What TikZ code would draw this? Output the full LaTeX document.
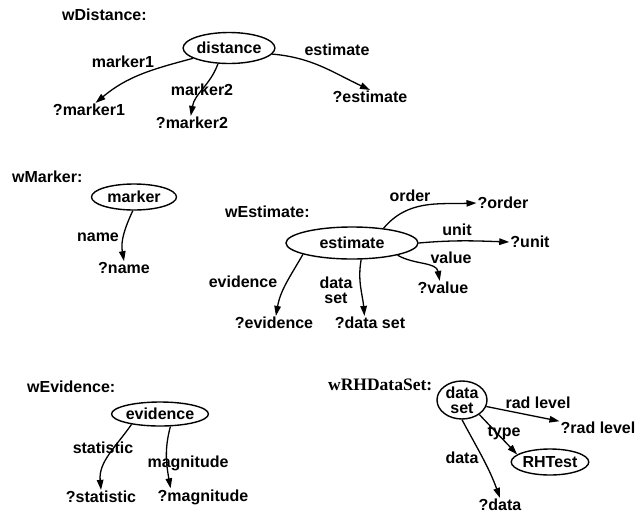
\documentclass[tikz,border=0pt]{standalone}
\usepackage{fontspec}
\setmainfont{Liberation Sans}
\newfontfamily\titleserif{Liberation Serif}
\usetikzlibrary{arrows.meta}
\usetikzlibrary{shapes.geometric}
\tikzset{
	lbl/.style={font=\fontsize{16}{15}\selectfont\bfseries, inner sep=1pt, align=center},
	ttl/.style={lbl, anchor=west},
	obj/.style={lbl, ellipse, draw, line width=1.4pt, inner sep=0pt},
	rel/.style={-{Triangle[length=10pt,width=6.5pt]}, line width=1.3pt}
}

\begin{document}
\begin{tikzpicture}[x=1pt,y=-1pt]
			\useasboundingbox (0,0) rectangle (643,520);
			\node[ttl] (tdist) at (61,15){wDistance:};
			\node[obj, minimum width=88pt, minimum height=31pt] (dist) at (229,48){distance};
			\node[lbl] (qmarkerA) at (89,110){?marker1};
			\node[lbl] (qmarkerB) at (192,123){?marker2};
			\node[lbl] (qestim) at (370,97){?estimate};
			\node[lbl] (lmarkerA) at (123,62){marker1};
			\node[lbl] (lmarkerB) at (202,90){marker2};
			\node[lbl] (lestim) at (337,50){estimate};
			\draw[rel] (dist.196) to[out=195, in=40] (qmarkerA.47);
			\draw[rel] (dist.235) to[out=250, in=80] (qmarkerB.100);
			\draw[rel] (dist.352) to[out=-5, in=155] (qestim.north);

			\node[ttl] (tmark) at (11,177){wMarker:};
			\node[obj, minimum width=85pt, minimum height=26pt] (mark) at (134,197){marker};
			\node[lbl] (qname) at (124,268){?name};
			\node[lbl] (lname) at (98,237){name};
			\draw[rel] (mark.265) to[out=245, in=100] (qname.north);

			\node[ttl] (test) at (224,212){wEstimate:};
			\node[obj, minimum width=132pt, minimum height=32pt] (est) at (352,243){estimate};
			\node[lbl] (qorder) at (503,203){?order};
			\node[lbl] (qunit) at (530,242){?unit};
			\node[lbl] (qvalue) at (443,288){?value};
			\node[lbl] (qevid) at (274,323){?evidence};
			\node[lbl] (qdset) at (370,323){?data set};
			\node[lbl] (lorder) at (410,196){order};
			\node[lbl] (lunit) at (457,230){unit};
			\node[lbl] (lvalue) at (451,258){value};
			\node[lbl] (levid) at (243,282){evidence};
			\node[lbl] (ldset) at (336,290){data\\set};
			\draw[rel] (est.25) to[out=50, in=182] (qorder.west);
			\draw[rel] (est.east) to[out=5, in=178] (qunit.west);
			\draw[rel] (est.-15) to[out=-30, in=100] (qvalue.115);
			\draw[rel] (est.193) to[out=240, in=80] (qevid.75);
			\draw[rel] (est.299) to[out=260, in=95] (qdset.128);

			\node[ttl] (tevid) at (26,387){wEvidence:};
			\node[obj, minimum width=90pt, minimum height=24pt] (evid) at (160,414){evidence};
			\node[lbl] (qstat) at (101,497){?statistic};
			\node[lbl] (qmagn) at (203,497){?magnitude};
			\node[lbl] (lstat) at (103,448){statistic};
			\node[lbl] (lmagn) at (188,463){magnitude};
			\draw[rel] (evid.200) to[out=235, in=95] (qstat.north);
			\draw[rel] (evid.-50) to[out=255, in=100] (qmagn.165);

			\node[ttl, font=\fontsize{17.5}{17}\selectfont\bfseries\titleserif] (trh) at (327,385){wRHDataSet:};
			\node[obj, minimum width=50pt, minimum height=38pt] (dset) at (462,400){data\\set};
			\node[obj, minimum width=74pt, minimum height=26pt] (rhtest) at (550,462){RHTest};
			\node[lbl] (qrad) at (598,428){?rad level};
			\node[lbl] (qdata) at (500,505){?data};
			\node[lbl] (lrad) at (538,403){rad level};
			\node[lbl] (ltype) at (504,433){type};
			\node[lbl] (ldata) at (462,458){data};
			\draw[rel] (dset.-15) -- (qrad.170);
			\draw[rel] (dset.-40) -- (rhtest.167);
			\draw[rel] (dset.south) to[out=-62, in=110] (qdata.north);
		\end{tikzpicture}
\end{document}
